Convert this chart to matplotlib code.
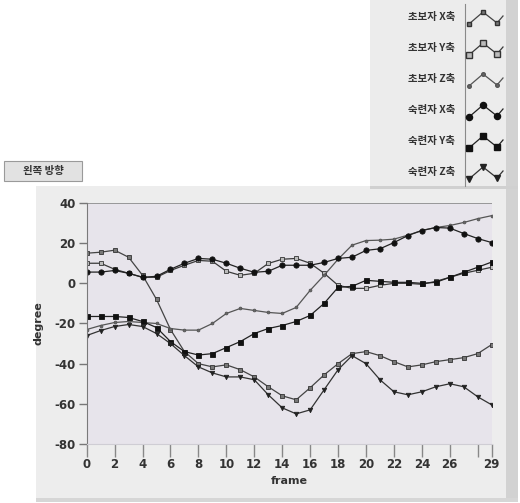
import matplotlib
matplotlib.use("Agg")
import matplotlib.pyplot as plt
from matplotlib.patches import Rectangle

plt.rcParams['font.family'] = ['DejaVu Sans', 'Noto Sans CJK KR']
KR = ['Noto Sans CJK KR', 'DejaVu Sans']

W, H = 520, 503

frames = list(range(30))

series_names = ["초보자 X축", "초보자 Y축", "초보자 Z축", "숙련자 X축", "숙련자 Y축", "숙련자 Z축"]

beginner_x = [15, 15.5, 16.5, 13, 4, -8, -23, -34, -40, -41.6, -40.6, -43, -46.6, -51.5, -56,
              -58, -52, -45.6, -40, -35, -34, -36, -39, -41.6, -40.6, -39, -38, -37, -35, -30.5]
beginner_y = [10, 10, 7, 5, 3, 3, 6.4, 9, 11.4, 11, 6, 4, 5, 9.9, 12,
              12.4, 10, 5, -1, -2.5, -2.5, -1, 0, 0, -0.5, 1, 3, 5, 6.5, 8]
beginner_z = [-23, -21, -19.5, -19, -19.5, -20, -22.5, -23.3, -23.3, -20, -15, -12.5, -13.5, -14.5, -15,
              -12, -3.5, 4, 12, 19, 21.3, 21.5, 22, 24, 26.3, 27.8, 28.8, 30.3, 32.2, 33.7]
expert_x = [5.6, 5.6, 6.4, 5, 3, 3.5, 7, 10, 12.4, 12, 10, 7.5, 5.5, 6, 9,
            9, 9, 10.4, 12.4, 13, 16.4, 17.2, 20.3, 23.8, 26.3, 27.8, 27.5, 24.8, 22.3, 20.3]
expert_y = [-16.5, -16.5, -16.5, -17, -19, -22, -29, -34, -35.7, -35, -32, -29, -25, -22.5, -21,
            -19, -16, -10, -2, -1.5, 1.5, 1, 0.5, 0.5, 0, 0.5, 3, 5.5, 8, 10.6]
expert_z = [-26, -23.5, -21.5, -20.5, -21.5, -25, -30, -36, -41.6, -44.6, -46.6, -46.6, -48, -55.5, -62,
            -65, -63, -53, -43, -36, -40, -48, -54, -55.5, -54, -51.5, -50, -51.5, -56.5, -60.5]

all_series = [beginner_x, beginner_y, beginner_z, expert_x, expert_y, expert_z]

x_ticks = list(range(0, 29, 2)) + [29]
x_tick_labels = [str(t) if t != 28 else "" for t in range(0, 29, 2)] + ["29"]
y_ticks = [40, 20, 0, -20, -40, -60, -80]

# marker style per series: (marker, size, face, edge)
styles = [
    ('s', 2.6, '#777777', '#333333'),
    ('s', 3.4, '#bbbbbb', '#333333'),
    ('o', 2.0, '#666666', '#555555'),
    ('o', 3.8, '#111111', '#111111'),
    ('s', 3.6, '#111111', '#111111'),
    ('v', 3.2, '#222222', '#222222'),
]
line_colors = ['#444444', '#3a3a3a', '#555555', '#222222', '#222222', '#333333']

fig = plt.figure(figsize=(W / 100, H / 100), dpi=100)
fig.patch.set_facecolor('white')


def px_rect(x0, y0, x1, y1, z=-10, **kw):
    r = Rectangle((x0 / W, 1 - y1 / H), (x1 - x0) / W, (y1 - y0) / H,
                  transform=fig.transFigure, zorder=z, **kw)
    fig.patches.append(r)
    return r


# chart panel
px_rect(36, 186, 510, 500, facecolor='#ededed', edgecolor='none')
px_rect(506, 186, 518, 500, facecolor='#d2d2d2', edgecolor='none')
px_rect(36, 498, 518, 502, facecolor='#d6d6d6', edgecolor='none')

# title box
px_rect(4, 161, 82, 181, z=-9, facecolor='#e2e2e2', edgecolor='#9a9a9a', linewidth=0.8)
fig.text(43 / W, 1 - 171 / H, "왼쪽 방향", family=KR, fontsize=7.5, color='#333333',
         ha='center', va='center', fontweight='bold')

# legend panel
px_rect(370, 0, 508, 188, facecolor='#ececec', edgecolor='none')
px_rect(506, 0, 518, 188, facecolor='#d2d2d2', edgecolor='none')
px_rect(370, 186, 518, 189, facecolor='#d0d0d0', edgecolor='none')

lax = fig.add_axes([370 / W, 1 - 188 / H, 138 / W, 188 / H])
lax.set_xlim(370, 508)
lax.set_ylim(188, 0)
lax.axis('off')
lax.plot([465, 465], [4, 186], color='#8a8a8a', lw=0.8)
row_y = [17, 48, 79, 110, 141, 172]
zig_x = [469, 483, 497, 503]
zig_dy = [7, -5, 6, -1]
for name, yy, (mk, ms, mfc, mec), lc in zip(series_names, row_y, styles, line_colors):
    lax.text(455, yy, name, family=KR, fontsize=7.5, color='#333333',
             ha='right', va='center', fontweight='bold')
    lax.plot(zig_x, [yy + d for d in zig_dy], color=lc, lw=0.9)
    lax.plot(zig_x[:3], [yy + d for d in zig_dy[:3]], linestyle='none', marker=mk,
             markersize=ms + 0.6, markerfacecolor=mfc, markeredgecolor=mec)

# main plot
ax = fig.add_axes([86.7 / W, 1 - 444 / H, (491.7 - 86.7) / W, (444 - 203) / H])
ax.set_facecolor('#e7e4eb')
ax.set_xlim(0, 29)
ax.set_ylim(-80, 40)

for ys, (mk, ms, mfc, mec), lc, name in zip(all_series, styles, line_colors, series_names):
    ax.plot(frames, ys, color=lc, lw=0.9, marker=mk, markersize=ms,
            markerfacecolor=mfc, markeredgecolor=mec, markeredgewidth=0.6, label=name)

ax.axhline(40, color='#8a8a8a', lw=1.2)
ax.spines['right'].set_visible(False)
ax.spines['top'].set_visible(False)
ax.spines['left'].set_color('#7a7a7a')
ax.spines['bottom'].set_color('#cfcdd4')

ax.set_xticks(x_ticks)
ax.set_xticklabels(x_tick_labels)
ax.set_yticks(y_ticks)
ax.set_yticklabels([str(t) for t in y_ticks])
ax.tick_params(axis='y', direction='out', length=6, width=1, color='#777777',
               labelsize=8.5, labelcolor='#333333', pad=2)
ax.tick_params(axis='x', direction='out', length=9, width=1, color='#888888',
               labelsize=8.5, labelcolor='#333333', pad=1)
for lbl in ax.get_xticklabels() + ax.get_yticklabels():
    lbl.set_fontweight('bold')

ax.set_xlabel("frame", fontsize=8, color='#333333', labelpad=4, fontweight='bold')
ax.set_ylabel("degree", fontsize=8, color='#333333', labelpad=8, fontweight='bold')

fig.savefig("out.png", dpi=100, facecolor=fig.get_facecolor())
